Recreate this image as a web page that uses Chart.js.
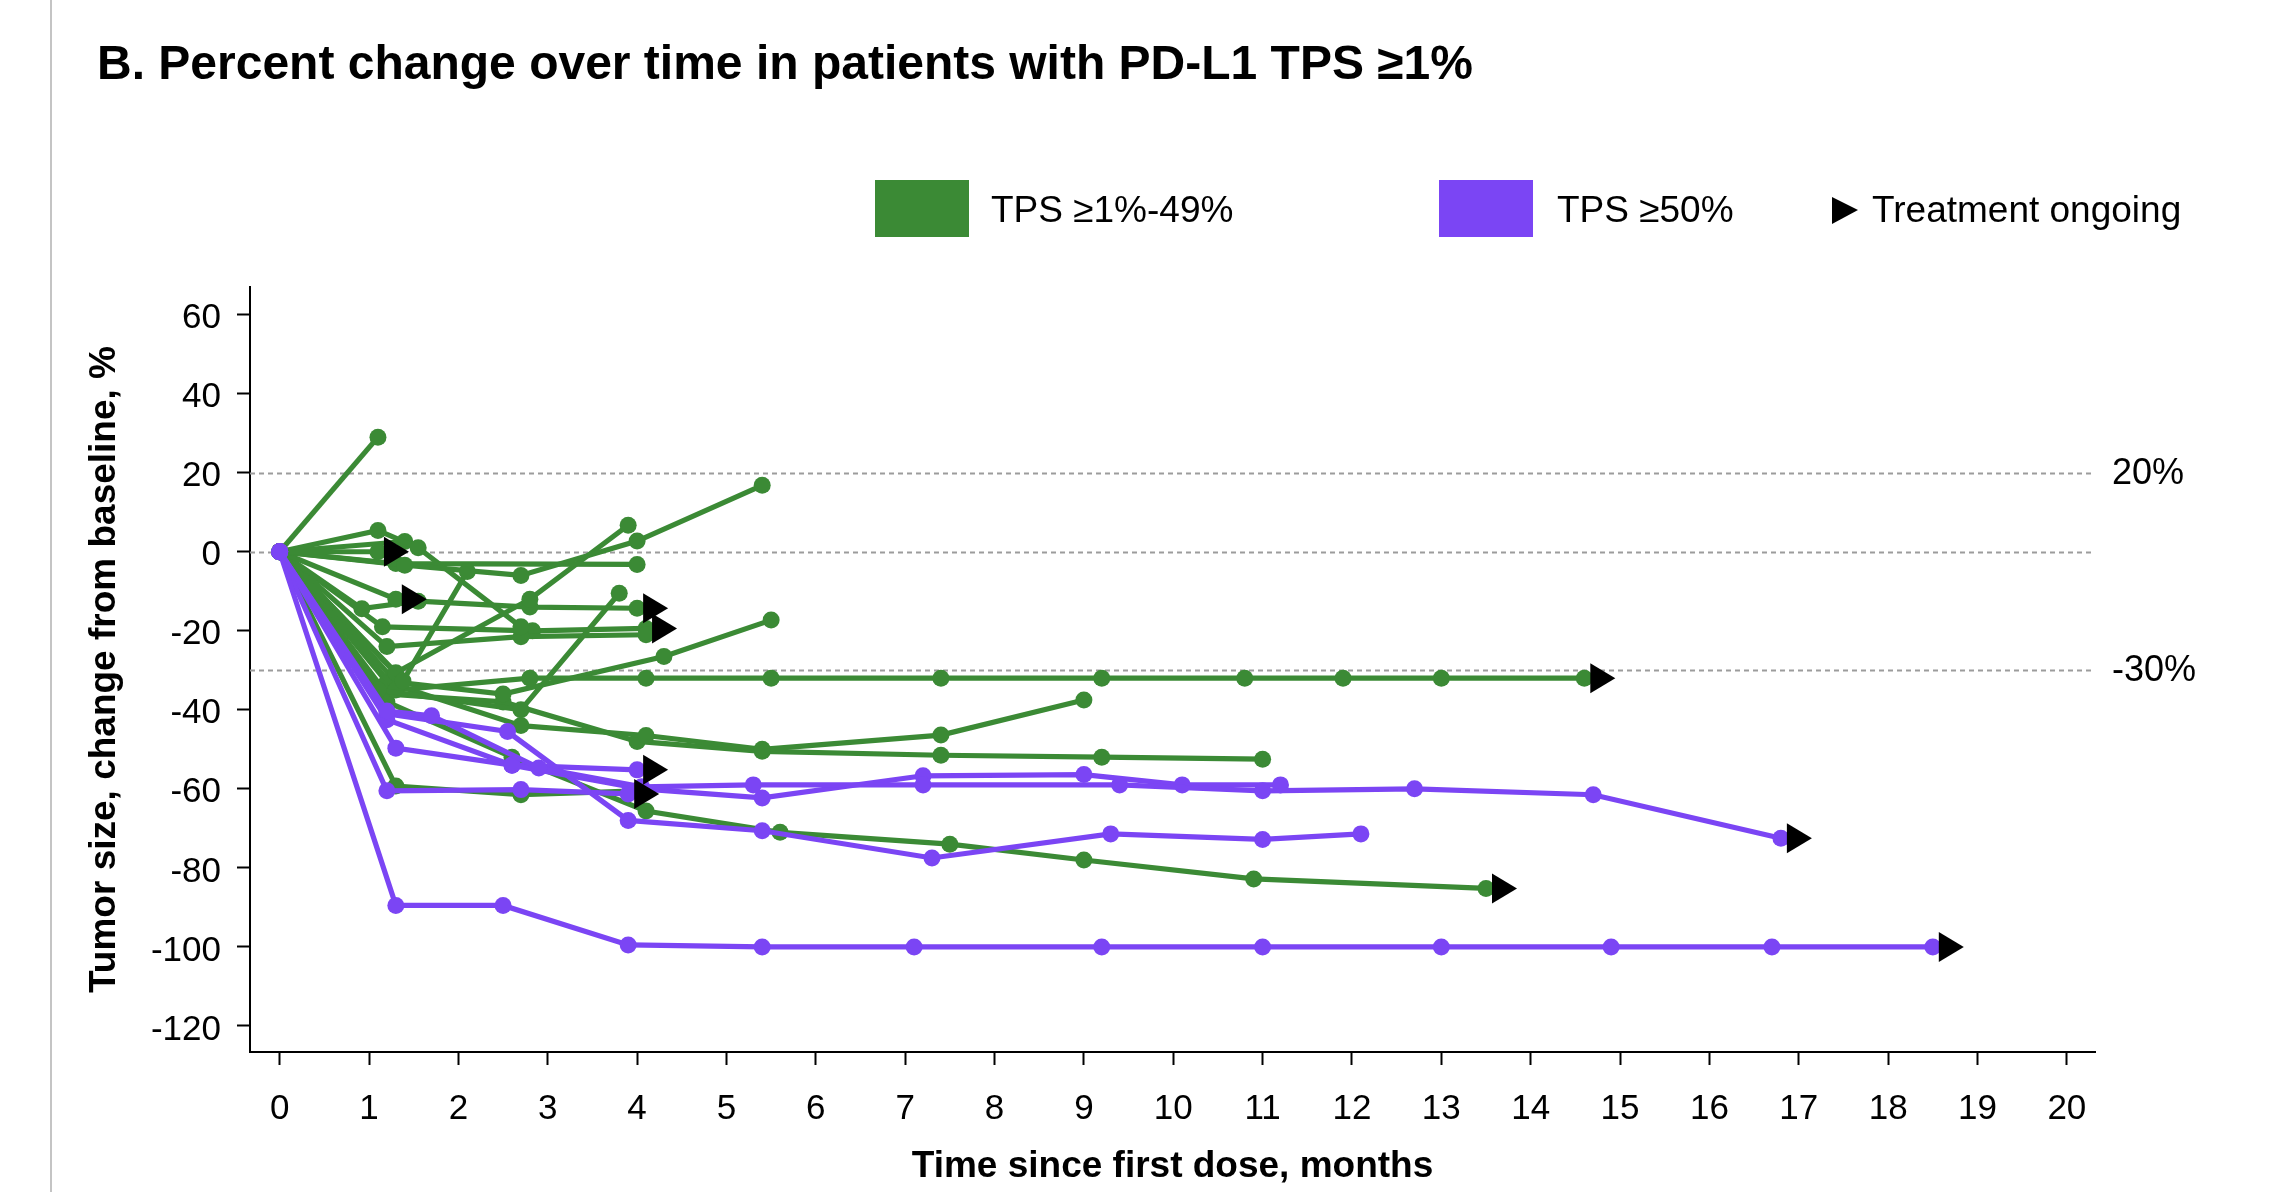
<!DOCTYPE html>
<html><head><meta charset="utf-8">
<script src="https://cdn.jsdelivr.net/npm/chart.js@4/dist/chart.umd.min.js"></script>
<style>html,body{margin:0;padding:0;background:#fff}#wrap{position:relative;width:2284px;height:1192px}</style>
</head><body><div id="wrap"><canvas id="c" width="2284" height="1192"></canvas></div>
<script>
// ---- labels / ticks ----
const chartTitle = 'B. Percent change over time in patients with PD-L1 TPS \u22651%';
const xTitle = 'Time since first dose, months';
const yTitle = 'Tumor size, change from baseline, %';
const xTicks = [0,1,2,3,4,5,6,7,8,9,10,11,12,13,14,15,16,17,18,19,20];
const yTicks = [-120,-100,-80,-60,-40,-20,0,20,40,60];
const refLines = [20, 0, -30];
const refLabels = ['20%', '', '-30%'];
const groupNames = ['TPS \u22651%-49%', 'TPS \u226550%'];
const ongoingLabel = 'Treatment ongoing';

// ---- TPS >=1%-49% patients: [months, % change] ----
const g01 = [[0,0],[1.1,29]];
const g02 = [[0,0],[1.1,0]];
const g03 = [[0,0],[1.1,5.4],[1.55,1],[2.7,-19]];
const g04 = [[0,0],[1.4,2.6]];
const g05 = [[0,0],[1.38,-32.7],[2.1,-5]];
const g06 = [[0,0],[1.4,-3.4],[2.7,-6],[4.0,2.7],[5.4,16.8]];
const g07 = [[0,0],[1.3,-3],[4.0,-3.2]];
const g08 = [[0,0],[1.3,-30.6],[2.8,-12],[3.9,6.7]];
const g09 = [[0,0],[1.3,-12]];
const g10 = [[0,0],[0.92,-14.4],[1.55,-12.5],[2.8,-14],[4.0,-14.3]];
const g11 = [[0,0],[1.1,-35],[2.7,-40],[3.8,-10.5]];
const g12 = [[0,0],[1.2,-24],[2.7,-21.5],[4.1,-21]];
const g13 = [[0,0],[1.15,-19],[2.83,-20],[4.1,-19.4]];
const g14 = [[0,0],[1.3,-35],[2.8,-32],[4.1,-32],[5.5,-32],[7.4,-32],[9.2,-32],[10.8,-32],[11.9,-32],[13.0,-32],[14.6,-32]];
const g15 = [[0,0],[1.3,-33],[2.5,-36],[4.3,-26.5],[5.5,-17.3]];
const g16 = [[0,0],[1.2,-33],[2.7,-44],[4.1,-46.5],[5.4,-50],[7.4,-46.4],[9.0,-37.5]];
const g17 = [[0,0],[1.2,-36],[2.5,-38],[4.0,-48],[5.4,-50.5],[7.4,-51.5],[9.2,-52],[11.0,-52.5]];
const g18 = [[0,0],[1.2,-38],[2.6,-52],[4.1,-65.6],[5.6,-71],[7.5,-74],[9.0,-78],[10.9,-82.8],[13.5,-85.2]];
const g19 = [[0,0],[1.3,-59.3],[2.7,-61.5],[4.0,-60.5]];
const greenPatients = [g01,g02,g03,g04,g05,g06,g07,g08,g09,g10,g11,g12,g13,g14,g15,g16,g17,g18,g19];
const greenOngoing = [g02,g09,g10,g13,g14,g18];

// ---- TPS >=50% patients ----
const p01 = [[0,0],[1.3,-89.5],[2.5,-89.5],[3.9,-99.5],[5.4,-100],[7.1,-100],[9.2,-100],[11.0,-100],[13.0,-100],[14.9,-100],[16.7,-100],[18.5,-100]];
const p02 = [[0,0],[1.2,-40.3],[1.7,-41.5],[2.9,-54.7],[4.05,-59.5],[5.3,-59],[7.2,-59],[9.4,-59],[11.0,-60.5],[12.7,-60],[14.7,-61.5],[16.8,-72.5]];
const p03 = [[0,0],[1.2,-42.5],[2.6,-54],[4.05,-60],[5.4,-62.3],[7.2,-56.7],[9.0,-56.4],[10.1,-59],[11.2,-59]];
const p04 = [[0,0],[1.2,-41],[2.55,-45.5],[3.9,-68],[5.4,-70.6],[7.3,-77.5],[9.3,-71.4],[11.0,-72.8],[12.1,-71.4]];
const p05 = [[0,0],[1.3,-49.7],[2.6,-54],[4.0,-55.2]];
const p06 = [[0,0],[1.2,-60.5],[2.7,-60.2],[3.9,-61.3]];
const purplePatients = [p01,p02,p03,p04,p05,p06];
const purpleOngoing = [p01,p02,p05,p06];

// ---- styles ----
const GREEN = '#3b8a35';
const PURPLE = '#7b45f4';
const FONT = "'Liberation Sans', Arial, Helvetica, sans-serif";

function makeSets(list, ongoing, color, order){
  return list.map(p => ({
    data: p.map(([x,y]) => ({x, y})),
    ongoing: ongoing.includes(p),
    showLine: true,
    borderColor: color,
    backgroundColor: color,
    pointBackgroundColor: color,
    pointBorderColor: color,
    pointBorderWidth: 0,
    borderWidth: 5.2,
    pointRadius: 8.5,
    tension: 0,
    order: order
  }));
}
const datasets = makeSets(greenPatients, greenOngoing, GREEN, 1)
  .concat(makeSets(purplePatients, purpleOngoing, PURPLE, 0));

const decor = {
  id: 'decor',
  beforeDraw(chart){
    const ctx = chart.ctx;
    ctx.save();
    ctx.fillStyle = '#fff';
    ctx.fillRect(0,0,chart.width,chart.height);
    ctx.strokeStyle = '#c4c4c4'; ctx.lineWidth = 2;
    ctx.beginPath(); ctx.moveTo(51,0); ctx.lineTo(51,chart.height); ctx.stroke();
    ctx.fillStyle = '#000';
    ctx.font = 'bold 48px ' + FONT;
    ctx.textBaseline = 'alphabetic'; ctx.textAlign = 'left';
    ctx.fillText(chartTitle, 97, 79);
    ctx.font = '37px ' + FONT;
    ctx.textBaseline = 'middle';
    ctx.fillStyle = GREEN; ctx.fillRect(875,180,94,57);
    ctx.fillStyle = '#000'; ctx.fillText(groupNames[0], 991, 212);
    ctx.fillStyle = PURPLE; ctx.fillRect(1439,180,94,57);
    ctx.fillStyle = '#000'; ctx.fillText(groupNames[1], 1557, 212);
    ctx.beginPath(); ctx.moveTo(1832,197); ctx.lineTo(1858,210); ctx.lineTo(1832,224); ctx.closePath(); ctx.fill();
    ctx.fillText(ongoingLabel, 1872, 212);
    ctx.restore();
  },
  beforeDatasetsDraw(chart){
    const ctx = chart.ctx, a = chart.chartArea, ys = chart.scales.y;
    ctx.save();
    ctx.strokeStyle = '#9c9c9c'; ctx.lineWidth = 2; ctx.setLineDash([5,4]);
    refLines.forEach((v,i) => {
      const py = Math.round(ys.getPixelForValue(v)) + 0.5;
      ctx.beginPath(); ctx.moveTo(a.left, py); ctx.lineTo(a.right, py); ctx.stroke();
    });
    ctx.setLineDash([]);
    ctx.fillStyle = '#000'; ctx.font = '36px ' + FONT; ctx.textBaseline = 'middle'; ctx.textAlign = 'left';
    refLines.forEach((v,i) => {
      if (refLabels[i]) ctx.fillText(refLabels[i], a.right + 17, ys.getPixelForValue(v) + 1);
    });
    ctx.restore();
  },
  afterDatasetsDraw(chart){
    const ctx = chart.ctx;
    ctx.save(); ctx.fillStyle = '#000';
    chart.data.datasets.forEach((ds,i) => {
      if (!ds.ongoing) return;
      const meta = chart.getDatasetMeta(i);
      const pt = meta.data[meta.data.length-1];
      ctx.beginPath();
      ctx.moveTo(pt.x + 6, pt.y - 15);
      ctx.lineTo(pt.x + 31, pt.y);
      ctx.lineTo(pt.x + 6, pt.y + 15);
      ctx.closePath(); ctx.fill();
    });
    ctx.restore();
  }
};

new Chart(document.getElementById('c'), {
  type: 'scatter',
  data: { datasets },
  options: {
    responsive: false, animation: false, devicePixelRatio: 1,
    layout: { padding: { top: 287, right: 189, left: 0, bottom: 0 } },
    plugins: { legend: { display: false }, tooltip: { enabled: false }, title: { display: false } },
    scales: {
      x: {
        type: 'linear', min: -0.332, max: 20.315,
        afterBuildTicks: s => { s.ticks = xTicks.map(v => ({ value: v })); },
        afterFit: s => { s.height = 140; },
        grid: { drawOnChartArea: false, drawTicks: true, tickLength: 13, tickWidth: 2, color: '#000', tickColor: '#000' },
        border: { display: true, color: '#000', width: 2 },
        ticks: { color: '#000', font: { size: 35, family: FONT }, padding: 23, maxRotation: 0, autoSkip: false },
        title: { display: true, text: xTitle, color: '#000', font: { size: 37, weight: 'bold', family: FONT }, padding: { top: 0, bottom: 3 } }
      },
      y: {
        type: 'linear', min: -126.6, max: 67.0,
        afterBuildTicks: s => { s.ticks = yTicks.map(v => ({ value: v })); },
        afterFit: s => { s.width = 250; },
        grid: { drawOnChartArea: false, drawTicks: true, tickLength: 13, tickWidth: 2, color: '#000', tickColor: '#000' },
        border: { display: true, color: '#000', width: 2 },
        ticks: { color: '#000', font: { size: 35, family: FONT }, padding: 16, labelOffset: 4 },
        title: { display: true, text: yTitle, color: '#000', font: { size: 37, weight: 'bold', family: FONT }, padding: { top: 83, bottom: 0 } }
      }
    }
  },
  plugins: [decor]
});
</script></body></html>
